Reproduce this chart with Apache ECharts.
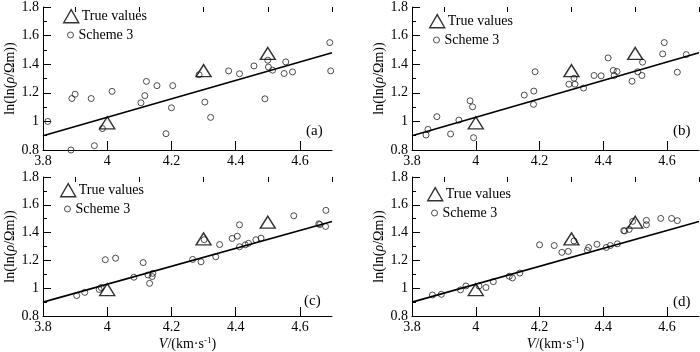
<!DOCTYPE html>
<html>
<head>
<meta charset="utf-8">
<script src="https://cdn.jsdelivr.net/npm/echarts@6/dist/echarts.min.js"></script>
<style>
  html, body { margin: 0; padding: 0; background: #fff; }
  #chart { width: 700px; height: 352px; }
</style>
</head>
<body>
<div id="chart"></div>
<script>
// 数据
const panelTags = ['(a)', '(b)', '(c)', '(d)'];
const xTickLabels = [3.8, 4, 4.2, 4.4, 4.6];
const xMajorTicks = [4, 4.2, 4.4, 4.6];
const xMinorTicks = [3.9, 4.1, 4.3, 4.5, 4.7];

const trueV = [4.0, 4.3, 4.5];
const trueLn = [0.99, 1.355, 1.475];

const fitV = [3.8, 4.7];
const fitLn = [0.9, 1.48];

// Scheme 3 的结果, 每个子图一组 [V, ln(ln(rho))]
const schemeA = [
  [3.815, 1.0], [3.89, 1.16], [3.90, 1.19], [3.95, 1.16], [4.015, 1.21],
  [3.985, 0.95], [3.96, 0.83], [3.887, 0.80], [4.105, 1.13], [4.117, 1.18],
  [4.122, 1.28], [4.155, 1.25], [4.204, 1.25], [4.20, 1.095], [4.183, 0.914],
  [4.286, 1.326], [4.304, 1.135], [4.322, 1.028], [4.378, 1.353], [4.412, 1.333],
  [4.457, 1.388], [4.491, 1.158], [4.50, 1.428], [4.502, 1.38], [4.515, 1.358],
  [4.551, 1.335], [4.556, 1.416], [4.577, 1.346], [4.693, 1.551], [4.696, 1.353]
];
const schemeB = [
  [3.844, 0.905], [3.85, 0.944], [3.878, 1.033], [3.921, 0.912], [3.947, 1.009],
  [3.982, 1.144], [3.99, 1.102], [3.993, 0.886], [4.152, 1.184], [4.182, 1.212],
  [4.186, 1.347], [4.181, 1.119], [4.292, 1.26], [4.308, 1.302], [4.311, 1.26],
  [4.338, 1.233], [4.371, 1.321], [4.393, 1.319], [4.415, 1.444], [4.431, 1.356],
  [4.434, 1.321], [4.443, 1.349], [4.49, 1.281], [4.508, 1.347], [4.521, 1.321],
  [4.523, 1.414], [4.586, 1.472], [4.591, 1.551], [4.632, 1.344], [4.66, 1.467]
];
const schemeC = [
  [3.905, 0.947], [3.93, 0.97], [3.975, 0.991], [3.981, 1.005], [3.994, 1.205],
  [4.026, 1.216], [4.083, 1.079], [4.112, 1.184], [4.127, 1.095], [4.132, 1.035],
  [4.14, 1.084], [4.142, 1.107], [4.266, 1.207], [4.292, 1.19], [4.302, 1.349],
  [4.338, 1.226], [4.35, 1.314], [4.389, 1.358], [4.405, 1.374], [4.412, 1.456],
  [4.412, 1.298], [4.43, 1.312], [4.44, 1.323], [4.463, 1.349], [4.479, 1.36],
  [4.581, 1.521], [4.659, 1.463], [4.662, 1.458], [4.68, 1.444], [4.681, 1.56]
];
const schemeD = [
  [3.864, 0.951], [3.892, 0.956], [3.952, 0.988], [3.969, 1.016], [4.01, 1.016],
  [4.032, 1.005], [4.055, 1.047], [4.105, 1.086], [4.115, 1.074], [4.138, 1.109],
  [4.2, 1.312], [4.246, 1.307], [4.27, 1.258], [4.29, 1.265], [4.308, 1.34],
  [4.35, 1.272], [4.354, 1.293], [4.38, 1.316], [4.409, 1.293], [4.422, 1.307],
  [4.444, 1.319], [4.464, 1.414], [4.467, 1.412], [4.481, 1.423], [4.492, 1.481],
  [4.535, 1.488], [4.535, 1.456], [4.58, 1.502], [4.614, 1.502], [4.632, 1.486]
];
const schemes = [schemeA, schemeB, schemeC, schemeD];

const FONT = 'Liberation Serif';

// 四个子图的位置
const grids = [
  { left: 43, top: 7, width: 289, height: 143 },
  { left: 412, top: 7, width: 287, height: 143 },
  { left: 43, top: 177, width: 289, height: 142 },
  { left: 412, top: 177, width: 287, height: 142 }
];
// 图例和标签位置
const legendPos = [[63, 9], [429, 14], [60, 183], [427, 187]];
const tagPos = [[306, 124], [673, 124], [304, 294], [673, 295]];

const chart = echarts.init(document.getElementById('chart'));

const xAxis = [];
const yAxis = [];
const series = [];
const legend = [];
const title = [];

grids.forEach((g, i) => {
  const bottomRow = i >= 2;
  // 主x轴: 刻度标签 + 长刻度
  xAxis.push({
    type: 'value', gridIndex: i, min: 3.8, max: 4.7, interval: 0.1,
    name: bottomRow ? '{i|V}/(km·s{sup|-1})' : '',
    nameLocation: 'middle', nameGap: 20,
    nameTextStyle: {
      color: '#000', fontFamily: FONT, fontSize: 14,
      rich: {
        i: { fontStyle: 'italic', fontFamily: FONT, fontSize: 14, color: '#000' },
        sup: { fontFamily: FONT, fontSize: 9, color: '#000', padding: [0, 0, 7, 0] }
      }
    },
    axisLine: { show: true, lineStyle: { color: '#000', width: 1 } },
    axisTick: { show: true, inside: true, length: 9, customValues: xMajorTicks, lineStyle: { color: '#000' } },
    axisLabel: { customValues: xTickLabels, color: '#000', fontFamily: FONT, fontSize: 14, margin: 4 },
    splitLine: { show: false }
  });
  // 辅助x轴: 短刻度
  xAxis.push({
    type: 'value', gridIndex: i, min: 3.8, max: 4.7, interval: 0.1,
    axisLine: { show: false },
    axisTick: { show: true, inside: true, length: 5, customValues: xMinorTicks, lineStyle: { color: '#000' } },
    axisLabel: { show: false },
    splitLine: { show: false }
  });
  yAxis.push({
    type: 'value', gridIndex: i, min: 0.8, max: 1.8, interval: 0.2,
    name: 'ln(ln({i|ρ}/Ωm))',
    nameLocation: 'middle', nameGap: 26, nameRotate: 90,
    nameTextStyle: {
      color: '#000', fontFamily: FONT, fontSize: 14,
      rich: { i: { fontStyle: 'italic', fontFamily: FONT, fontSize: 14, color: '#000' } }
    },
    axisLine: { show: true, lineStyle: { color: '#000', width: 1 } },
    axisTick: { show: true, inside: true, length: 8, lineStyle: { color: '#000' } },
    minorTick: { show: true, splitNumber: 2, length: 4, lineStyle: { color: '#000' } },
    axisLabel: { color: '#000', fontFamily: FONT, fontSize: 14, margin: 4 },
    splitLine: { show: false }
  });

  series.push({
    name: 'Fit', type: 'line', xAxisIndex: i * 2, yAxisIndex: i,
    data: fitV.map((v, k) => [v, fitLn[k]]),
    showSymbol: false, silent: true,
    lineStyle: { color: '#000', width: 1.7 }
  });
  series.push({
    name: 'Scheme 3', type: 'scatter', xAxisIndex: i * 2, yAxisIndex: i,
    data: schemes[i], symbol: 'circle', symbolSize: 6,
    itemStyle: { color: 'transparent', borderColor: '#222', borderWidth: 1 }
  });
  series.push({
    name: 'True values', type: 'scatter', xAxisIndex: i * 2, yAxisIndex: i,
    data: trueV.map((v, k) => [v, trueLn[k]]), symbol: 'triangle', symbolSize: [15, 12],
    itemStyle: { color: 'transparent', borderColor: '#000', borderWidth: 1.4 }
  });

  const [lx, ly] = legendPos[i];
  legend.push({
    data: ['True values'], left: lx, top: ly, padding: 0,
    itemWidth: 15, itemHeight: 13, selectedMode: false,
    itemStyle: { color: 'transparent', borderColor: '#000', borderWidth: 1.4 },
    textStyle: { color: '#000', fontFamily: FONT, fontSize: 14, padding: [0, 0, 0, -2] }
  });
  legend.push({
    data: ['Scheme 3'], left: lx + 4, top: ly + 19, padding: 0,
    itemWidth: 6, itemHeight: 6, selectedMode: false,
    itemStyle: { color: 'transparent', borderColor: '#222', borderWidth: 1 },
    textStyle: { color: '#000', fontFamily: FONT, fontSize: 14 }
  });

  title.push({
    text: panelTags[i], left: tagPos[i][0], top: tagPos[i][1], padding: 0,
    textStyle: { color: '#000', fontFamily: FONT, fontSize: 15, fontWeight: 'normal' }
  });
});

chart.setOption({
  backgroundColor: '#fff',
  animation: false,
  title: title,
  legend: legend,
  grid: grids.map(g => Object.assign({ containLabel: false }, g)),
  xAxis: xAxis,
  yAxis: yAxis,
  series: series
});
</script>
</body>
</html>
